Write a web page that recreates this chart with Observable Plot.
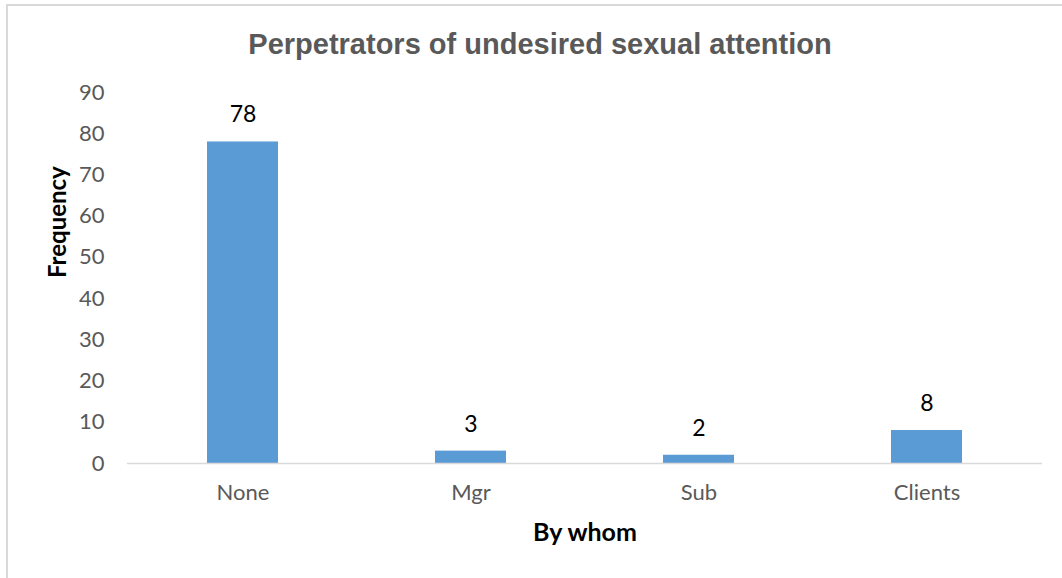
<!DOCTYPE html>
<html>
<head>
<meta charset="utf-8">
<script src="https://cdn.jsdelivr.net/npm/d3@7"></script>
<script src="https://cdn.jsdelivr.net/npm/@observablehq/plot@0.6"></script>
<style>
  html, body { margin: 0; padding: 0; background: #fff; }
  #chart {
    position: relative;
    width: 1062px;
    height: 578px;
    overflow: hidden;
  }
  #chart .frame {
    position: absolute;
    left: 6px;
    top: 4px;
    width: 1100px;
    height: 700px;
    border-top: 2px solid #d9d9d9;
    border-left: 2px solid #d9d9d9;
    pointer-events: none;
  }
  #chart svg { position: absolute; left: 0; top: 0; }
</style>
</head>
<body>
<div id="chart"><div class="frame"></div></div>
<script>
// Who the unwanted attention came from, and how often
const categories = ["None", "Mgr", "Sub", "Clients"];
const frequencies = [78, 3, 2, 8];
const yTicks = [0, 10, 20, 30, 40, 50, 60, 70, 80, 90];

const titleText = "Perpetrators of undesired sexual attention";
const xLabel = "By whom";
const yLabel = "Frequency";

const rows = categories.map((c, i) => ({category: c, value: frequencies[i]}));

const bodyFont = "Lato, 'Open Sans', sans-serif";

const plot = Plot.plot({
  width: 1062,
  height: 578,
  marginTop: 92,
  marginBottom: 115,
  marginLeft: 127,
  marginRight: 20,
  style: {fontFamily: bodyFont, background: "transparent", overflow: "visible"},
  x: {domain: categories, paddingInner: 0.69, paddingOuter: 0.345, label: null},
  y: {domain: [0, 90], label: null},
  marks: [
    Plot.barY(rows, {x: "category", y: "value", fill: "#5b9bd5"}),
    Plot.ruleY([0], {stroke: "#d9d9d9", strokeWidth: 1.5}),
    Plot.axisY({ticks: yTicks, tickSize: 0, tickPadding: 23, fontSize: 22, fill: "#595959", label: null}),
    Plot.axisX({tickSize: 0, tickPadding: 21, fontSize: 22, fill: "#595959", label: null}),
    Plot.text(rows, {x: "category", y: "value", text: d => String(d.value), dy: -27, fontSize: 23, fill: "#000", lineAnchor: "middle"}),
    // the title is centred on the whole chart, not just the plotting area
    Plot.text([titleText], {frameAnchor: "top", dx: -45, dy: -48, fontSize: 29, fontWeight: "bold", fill: "#595959", fontFamily: "'Liberation Sans', Arial, sans-serif", lineAnchor: "middle"}),
    Plot.text([xLabel], {frameAnchor: "bottom", dy: 69, fontSize: 25, fontWeight: "bold", fill: "#000", lineAnchor: "middle"}),
    Plot.text([yLabel], {frameAnchor: "left", dx: -69, rotate: -90, fontSize: 24, fontWeight: "bold", fill: "#000", lineAnchor: "middle"})
  ]
});

document.getElementById("chart").appendChild(plot);
</script>
</body>
</html>
